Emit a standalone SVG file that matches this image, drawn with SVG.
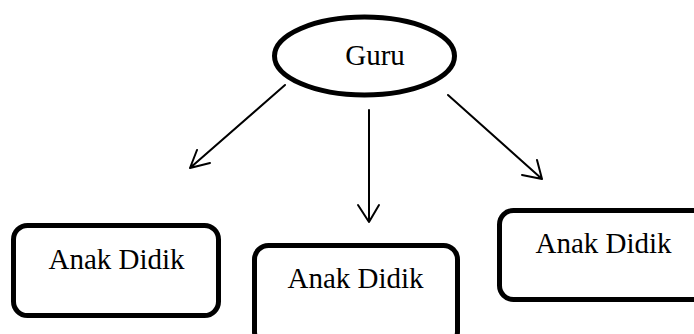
<svg xmlns="http://www.w3.org/2000/svg" width="694" height="334" viewBox="0 0 694 334">
<style>
.node{fill:#fff;stroke:#000;stroke-width:5}
.lbl{font-family:"Liberation Serif","Times New Roman",serif;font-size:29px;fill:#000;text-anchor:middle}
.conn{fill:none;stroke:#000;stroke-width:2;stroke-linecap:round;stroke-linejoin:round}
</style>
<rect width="694" height="334" fill="#fff"/>
<g id="connectors">
<path class="conn" d="M285,85 L190,168 M197,150 L190,168 L210,163"/>
<path class="conn" d="M369,110 L369,222 M358,205 L369,222 L379,205"/>
<path class="conn" d="M448,95 L542,179 M537,160 L542,179 L522,175"/>
</g>
<g id="guru">
<ellipse class="node" cx="364.5" cy="56" rx="90" ry="39" stroke-width="4.5"/>
<text class="lbl" x="375" y="65">Guru</text>
</g>
<g id="anak1">
<rect class="node" x="13.5" y="225.5" width="205" height="90" rx="14"/>
<text class="lbl" x="116.5" y="269">Anak Didik</text>
</g>
<g id="anak2">
<rect class="node" x="254.5" y="245.5" width="203" height="100" rx="14"/>
<text class="lbl" x="355.5" y="288">Anak Didik</text>
</g>
<g id="anak3">
<rect class="node" x="499.5" y="210.5" width="215" height="89" rx="14"/>
<text class="lbl" x="603.5" y="253">Anak Didik</text>
</g>
</svg>
